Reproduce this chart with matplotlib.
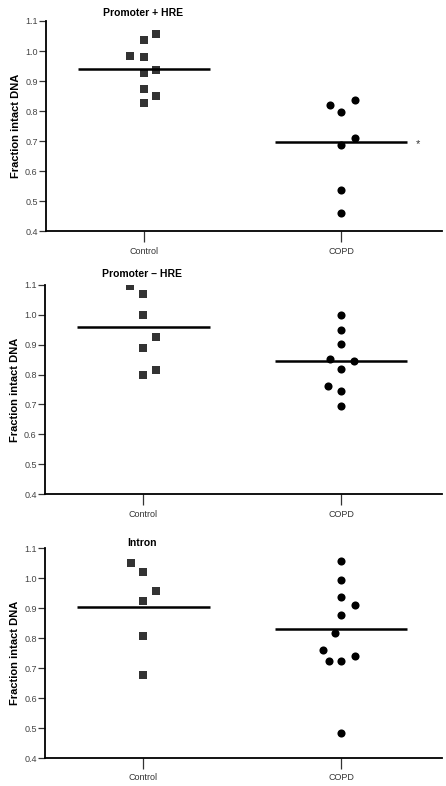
import matplotlib
matplotlib.use("Agg")
import matplotlib.pyplot as plt
import numpy as np

categories = ["Control", "COPD"]
titles = ["Promoter + HRE", "Promoter \u2013 HRE", "Intron"]

# (value, horizontal jitter in category units)
p1_control = [1.056, 1.037, 0.984, 0.979, 0.937, 0.926, 0.874, 0.852, 0.827]
p1_control_dx = [0.06, 0.0, -0.07, 0.0, 0.06, 0.0, 0.0, 0.06, 0.0]
p1_copd = [0.819, 0.836, 0.796, 0.711, 0.688, 0.537, 0.462]
p1_copd_dx = [-0.06, 0.07, 0.0, 0.07, 0.0, 0.0, 0.0]
p1_means = [0.940, 0.696]

p2_control = [1.097, 1.069, 1.000, 0.926, 0.889, 0.816, 0.797]
p2_control_dx = [-0.065, 0.0, 0.0, 0.065, 0.0, 0.065, 0.0]
p2_copd = [0.998, 0.949, 0.901, 0.852, 0.846, 0.818, 0.761, 0.745, 0.695]
p2_copd_dx = [0.0, 0.0, 0.0, -0.055, 0.065, 0.0, -0.065, 0.0, 0.0]
p2_means = [0.958, 0.846]

p3_control = [1.050, 1.020, 0.959, 0.924, 0.807, 0.676]
p3_control_dx = [-0.065, 0.0, 0.065, 0.0, 0.0, 0.0]
p3_copd = [1.056, 0.994, 0.938, 0.912, 0.879, 0.818, 0.762, 0.724, 0.724, 0.742, 0.482]
p3_copd_dx = [0.0, 0.0, 0.0, 0.07, 0.0, -0.03, -0.09, -0.06, 0.0, 0.07, 0.0]
p3_means = [0.903, 0.832]

panels = [
    (p1_control, p1_control_dx, p1_copd, p1_copd_dx, p1_means),
    (p2_control, p2_control_dx, p2_copd, p2_copd_dx, p2_means),
    (p3_control, p3_control_dx, p3_copd, p3_copd_dx, p3_means),
]

yticks = [0.4, 0.5, 0.6, 0.7, 0.8, 0.9, 1.0, 1.1]

fig = plt.figure(figsize=(4.46, 7.86), dpi=100)
plt.rcParams['font.family'] = ['Liberation Sans', 'DejaVu Sans']

axes_rects = [
    [0.1031, 0.7055, 0.888, 0.2678],
    [0.1010, 0.3711, 0.890, 0.2667],
    [0.1015, 0.0356, 0.889, 0.2668],
]
title_y = [13, 274, 543]
title_x = [143, 142, 142]

for i, (ctrl, cdx, copd, pdx, means) in enumerate(panels):
    ax = fig.add_axes(axes_rects[i])
    ax.scatter(np.array(cdx) + 0, ctrl, marker='s', s=28, color='#333333',
               linewidths=0, zorder=3)
    ax.scatter(np.array(pdx) + 1, copd, marker='o', s=34, color='black',
               linewidths=0, zorder=3)
    for j, m in enumerate(means):
        ax.plot([j - 0.335, j + 0.335], [m, m], color='black', lw=1.8, zorder=4,
                solid_capstyle='butt')
    ax.set_xlim(-0.497, 1.51)
    ax.set_ylim(0.4, 1.1)
    ax.set_yticks(yticks)
    ax.set_yticklabels([f"{t:.1f}" for t in yticks], fontsize=6.5, color='#444444')
    ax.set_xticks([0, 1])
    ax.set_xticklabels(categories, fontsize=6.5, color='#333333')
    ax.tick_params(axis='y', length=5, width=0.9, pad=1, color='#333333')
    ax.tick_params(axis='x', length=8, width=0.9, pad=3, color='#333333')
    for s in ['top', 'right']:
        ax.spines[s].set_visible(False)
    for s in ['left', 'bottom']:
        ax.spines[s].set_linewidth(1.3)
    ax.set_ylabel("Fraction intact DNA", fontsize=8, fontweight='bold', labelpad=3)
    fig.text(title_x[i] / 446, 1 - title_y[i] / 786, titles[i], fontsize=7.5,
             fontweight='bold', ha='center', va='center')
    if i == 0:
        ax.text(1.39, means[1] - 0.004, "*", fontsize=8, ha='center', va='center',
                color='#333333', clip_on=False)

fig.savefig("out.png", dpi=100)
